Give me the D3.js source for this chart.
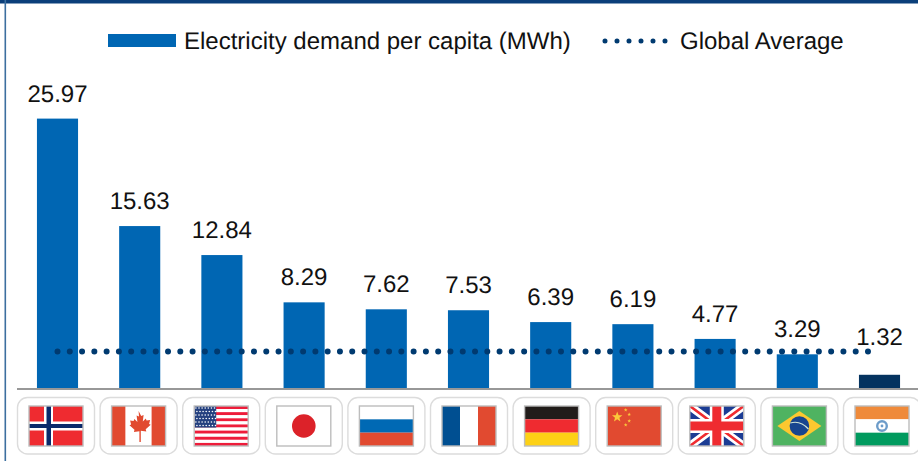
<!DOCTYPE html>
<html><head><meta charset="utf-8">
<script src="https://cdn.jsdelivr.net/npm/d3@7/dist/d3.min.js"></script>
<style>html,body{margin:0;padding:0;background:#fff;overflow:hidden}svg{display:block}text{font-family:"Liberation Sans",Arial,sans-serif;fill:#111;text-rendering:geometricPrecision}</style>
</head><body><svg id="c" width="918" height="461"></svg>
<script>
const countries = ["Norway","Canada","United States","Japan","Russia","France","Germany","China","United Kingdom","Brazil","India"];
const demand = [25.97,15.63,12.84,8.29,7.62,7.53,6.39,6.19,4.77,3.29,1.32];
const globalAverage = 3.56;
const seriesNames = ["Electricity demand per capita (MWh)","Global Average"];
const W=918,H=461,base=388.5;
const svg=d3.select("#c");
const blue="#0066b3",navy="#003a70",dark="#04335f";

// frame
svg.append("rect").attr("x",0).attr("y",0).attr("width",W).attr("height",3.5).attr("fill","#0b3f7a");
svg.append("rect").attr("x",4.5).attr("y",0).attr("width",1.6).attr("height",H).attr("fill","#3c6f9f");

const x=d3.scaleBand().domain(countries).range([16.4,920.6]).paddingInner(.5).paddingOuter(.25);
const y=d3.scaleLinear().domain([0,25.97]).range([base,118.6]);
const flagX=d3.scalePoint().domain(countries).range([56,882]);

svg.selectAll("rect.bar").data(countries).join("rect").attr("class","bar")
 .attr("x",d=>x(d)).attr("width",x.bandwidth())
 .attr("y",(d,i)=>y(demand[i])).attr("height",(d,i)=>base-y(demand[i]))
 .attr("fill",(d,i)=>i===10?dark:blue);

// axis
const ax=svg.append("g").attr("transform",`translate(0,${base+0.5})`).call(d3.axisBottom(x).tickSize(0).tickFormat(""));
ax.select(".domain").attr("stroke","#989898").attr("stroke-width",2).attr("d","M17,0H918");

// labels: a label that would sit on the average line is lifted above it
svg.selectAll("text.val").data(countries).join("text").attr("class","val")
 .attr("x",d=>x(d)+x.bandwidth()/2)
 .attr("y",(d,i)=>Math.min(y(demand[i])-17,y(globalAverage)-7))
 .attr("text-anchor","middle").attr("font-size",24)
 .text((d,i)=>demand[i].toFixed(2));

// average dotted line
svg.append("line").attr("x1",x(countries[0])+x.bandwidth()/2).attr("x2",868.5)
 .attr("y1",y(globalAverage)).attr("y2",y(globalAverage))
 .attr("stroke",navy).attr("stroke-width",6).attr("stroke-linecap","round").attr("stroke-dasharray","0 12.28");

// legend
svg.append("rect").attr("x",108).attr("y",34).attr("width",68).attr("height",13).attr("fill",blue);
svg.append("text").attr("x",184).attr("y",48.5).attr("font-size",24).text(seriesNames[0]);
svg.append("line").attr("x1",605).attr("x2",668).attr("y1",41).attr("y2",41)
 .attr("stroke",navy).attr("stroke-width",5).attr("stroke-linecap","round").attr("stroke-dasharray","0 12");
svg.append("text").attr("x",680).attr("y",48.5).attr("font-size",24).text(seriesNames[1]);

// flags (local box 54×40)
const FW=54,FH=40;
function bands(g,cols,vertical){cols.forEach((c,i)=>{const n=cols.length;
 g.append("rect").attr("x",vertical?i*FW/n:0).attr("y",vertical?0:i*FH/n)
  .attr("width",vertical?FW/n:FW).attr("height",vertical?FH:FH/n).attr("fill",c);});}
function star(g,cx,cy,r,fill){const p=[];for(let i=0;i<10;i++){const a=-Math.PI/2+i*Math.PI/5,q=i%2?r*.42:r;p.push([cx+q*Math.cos(a),cy+q*Math.sin(a)]);}
 g.append("polygon").attr("points",p.join(" ")).attr("fill",fill);}
const R=(g,x,y,w,h,f)=>g.append("rect").attr("x",x).attr("y",y).attr("width",w).attr("height",h).attr("fill",f);
const painters={
 "Norway":g=>{R(g,0,0,FW,FH,"#ef2b30");R(g,15,0,9,FH,"#fff");R(g,0,15.5,FW,9,"#fff");R(g,17.5,0,4.5,FH,"#0a2a6b");R(g,0,18,FW,4,"#0a2a6b");},
 "Canada":g=>{R(g,0,0,14,FH,"#e14a30");R(g,14,0,26,FH,"#fff");R(g,40,0,14,FH,"#e14a30");
  g.append("path").attr("fill","#e14a30").attr("d","M27,5l2.6,5 2.4-1-.8,6.5 3-3 .8,2 3.5-.6-1,4 1.6,.8-5,4.6 .6,2.2-5.5-.8V36h-1.4V25.2l-5.5,.8 .6-2.2-5-4.6 1.6-.8-1-4 3.5,.6 .8-2 3,3-.8-6.5 2.4,1z");},
 "United States":g=>{for(let i=0;i<13;i++)R(g,0,i*FH/13,FW,FH/13,i%2?"#fff":"#ee1c3a");R(g,0,0,22,FH*7/13,"#24407f");
  for(let r=0;r<6;r++)for(let c=0;c<7;c++)g.append("circle").attr("cx",1.7+c*3.1+(r%2?1:0)).attr("cy",2+r*3.5).attr("r",.8).attr("fill","#fff");},
 "Japan":g=>{R(g,0,0,FW,FH,"#fff");g.append("circle").attr("cx",27).attr("cy",20).attr("r",11.8).attr("fill","#dc2229");},
 "Russia":g=>bands(g,["#fff","#0069b4","#e14a30"],false),
 "France":g=>bands(g,["#004f91","#fff","#e14a30"],true),
 "Germany":g=>bands(g,["#211c1a","#ef2b30","#fdd116"],false),
 "China":g=>{R(g,0,0,FW,FH,"#e14a30");star(g,10,11,5.5,"#fbc93a");[[18.5,4],[22,8.5],[22,15],[18.5,19]].forEach(p=>star(g,p[0],p[1],1.9,"#fbc93a"));},
 "United Kingdom":g=>{R(g,0,0,FW,FH,"#1b3c94");
  g.append("path").attr("d","M0,0L54,40M54,0L0,40").attr("stroke","#fff").attr("stroke-width",8);
  g.append("path").attr("d","M0,0L54,40M54,0L0,40").attr("stroke","#ef2b30").attr("stroke-width",2.6);
  R(g,20,0,14,FH,"#fff");R(g,0,13,FW,14,"#fff");R(g,22.5,0,9,FH,"#ef2b30");R(g,0,15.5,FW,9,"#ef2b30");},
 "Brazil":g=>{R(g,0,0,FW,FH,"#4fb361");g.append("polygon").attr("points","5,20 27,5 49,20 27,35").attr("fill","#fdc82f");
  g.append("circle").attr("cx",27).attr("cy",20).attr("r",9.8).attr("fill","#17458f");
  g.append("path").attr("d","M17.8,17Q28,14 36,23").attr("fill","none").attr("stroke","#cfe3d6").attr("stroke-width",1.2);},
 "India":g=>{bands(g,["#ef8a3a","#fff","#009a5e"],false);
  g.append("circle").attr("cx",27).attr("cy",20).attr("r",4.8).attr("fill","none").attr("stroke","#6d9cc9").attr("stroke-width",2.4);
  g.append("circle").attr("cx",27).attr("cy",20).attr("r",1.4).attr("fill","#6d9cc9");}
};
const defs=svg.append("defs");
defs.append("clipPath").attr("id","fc").append("rect").attr("width",FW).attr("height",FH);
const tile=svg.selectAll("g.tile").data(countries).join("g").attr("class","tile").attr("transform",d=>`translate(${flagX(d)},426)`);
tile.append("rect").attr("x",-38.5).attr("y",-28.5).attr("width",77).attr("height",56.5).attr("rx",10)
 .attr("fill","#fff").attr("stroke","#dcdcdc").attr("stroke-width",1.4);
tile.each(function(d){
 const g=d3.select(this).append("g").attr("transform",`translate(${-FW/2},${-FH/2})`);
 const inner=g.append("g").attr("clip-path","url(#fc)");
 painters[d](inner);
 g.append("rect").attr("width",FW).attr("height",FH).attr("fill","none").attr("stroke","#bdbdbd").attr("stroke-width",1.4);
});
</script></body></html>
